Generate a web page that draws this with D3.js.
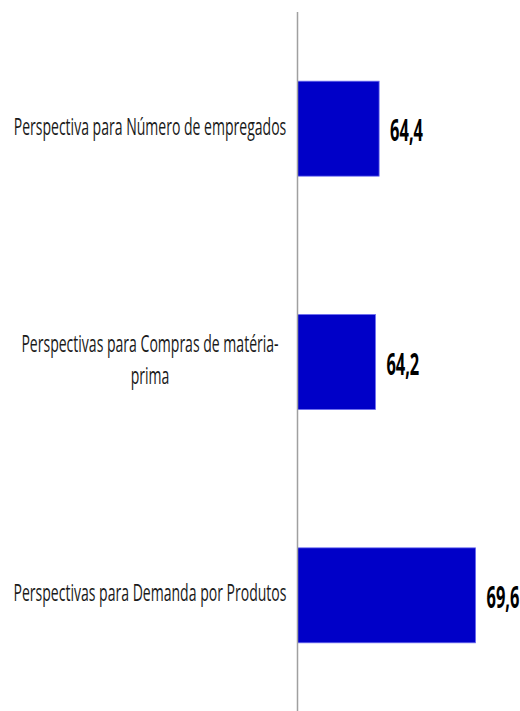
<!DOCTYPE html>
<html>
<head>
<meta charset="utf-8">
<script src="https://cdn.jsdelivr.net/npm/d3@7"></script>
<style>
  html, body { margin: 0; padding: 0; background: #fff; }
  svg { display: block; }
</style>
</head>
<body>
<div id="chart"></div>
<script>
// Data
const categories = [
    "Perspectiva para Número de empregados",
    "Perspectivas para Compras de matéria-prima",
    "Perspectivas para Demanda por Produtos"
];
const values = [64.4, 64.2, 69.6];
const valueLabels = ["64,4", "64,2", "69,6"];
const xDomain = [60, 70];

const width = 520, height = 711;
const axisX = 297.5;

const svg = d3.select("#chart")
    .append("svg")
    .attr("width", width)
    .attr("height", height);

// Scales
const x = d3.scaleLinear()
    .domain(xDomain)
    .range([axisX, axisX + 185.5]);

const y = d3.scaleBand()
    .domain(categories)
    .range([12, 712])
    .paddingInner(0.593)
    .paddingOuter(0.2965);

const catFont = "'Open Sans', 'DejaVu Sans', sans-serif";
const catSize = 23.4, catScale = 0.6, lineH = 32;
const valSize = 31, valScale = 0.53;

// Bars
svg.selectAll("rect.bar")
    .data(categories)
    .join("rect")
    .attr("class", "bar")
    .attr("x", x(xDomain[0]))
    .attr("y", d => y(d))
    .attr("width", (d, i) => x(values[i]) - x(xDomain[0]))
    .attr("height", y.bandwidth())
    .attr("fill", "#0000c8")
    .attr("stroke", "#6b6bf0")
    .attr("stroke-width", 0.8);

// Axis line
svg.append("line")
    .attr("x1", axisX).attr("x2", axisX)
    .attr("y1", 12).attr("y2", height)
    .attr("stroke", "#a0a0a0")
    .attr("stroke-width", 1.5);

// Value labels
svg.selectAll("text.value")
    .data(categories)
    .join("text")
    .attr("class", "value")
    .attr("transform", (d, i) =>
        `translate(${x(values[i]) + 11},${y(d) + y.bandwidth() / 2 + 12.8}) scale(${valScale},1)`)
    .style("font-family", catFont)
    .style("font-weight", "bold")
    .style("font-size", valSize + "px")
    .style("fill", "#000")
    .text((d, i) => valueLabels[i]);

// Category labels (wrapped, centred)
const measure = svg.append("text")
    .style("font-family", catFont)
    .style("font-size", catSize + "px");

function wrapLines(str, maxW) {
    const tokens = str.match(/[^\s-]+-?|\s+/g).filter(t => t.trim() !== "");
    // rebuild with spaces except after hyphen
    const lines = [];
    let cur = "";
    tokens.forEach(t => {
        const sep = cur === "" || cur.endsWith("-") ? "" : " ";
        const test = cur + sep + t;
        measure.text(test);
        if (cur !== "" && measure.node().getComputedTextLength() * catScale > maxW) {
            lines.push(cur);
            cur = t;
        } else {
            cur = test;
        }
    });
    if (cur) lines.push(cur);
    return lines;
}

categories.forEach(cat => {
    const lines = wrapLines(cat, 285);
    const cy = y(cat) + y.bandwidth() / 2;
    const first = cy + 6 - (lines.length - 1) * lineH / 2;
    lines.forEach((ln, j) => {
        svg.append("text")
            .attr("transform", `translate(150,${first + j * lineH}) scale(${catScale},1)`)
            .attr("text-anchor", "middle")
            .style("font-family", catFont)
            .style("font-size", catSize + "px")
            .style("fill", "#1a1a1a")
            .text(ln);
    });
});
measure.remove();
</script>
</body>
</html>
